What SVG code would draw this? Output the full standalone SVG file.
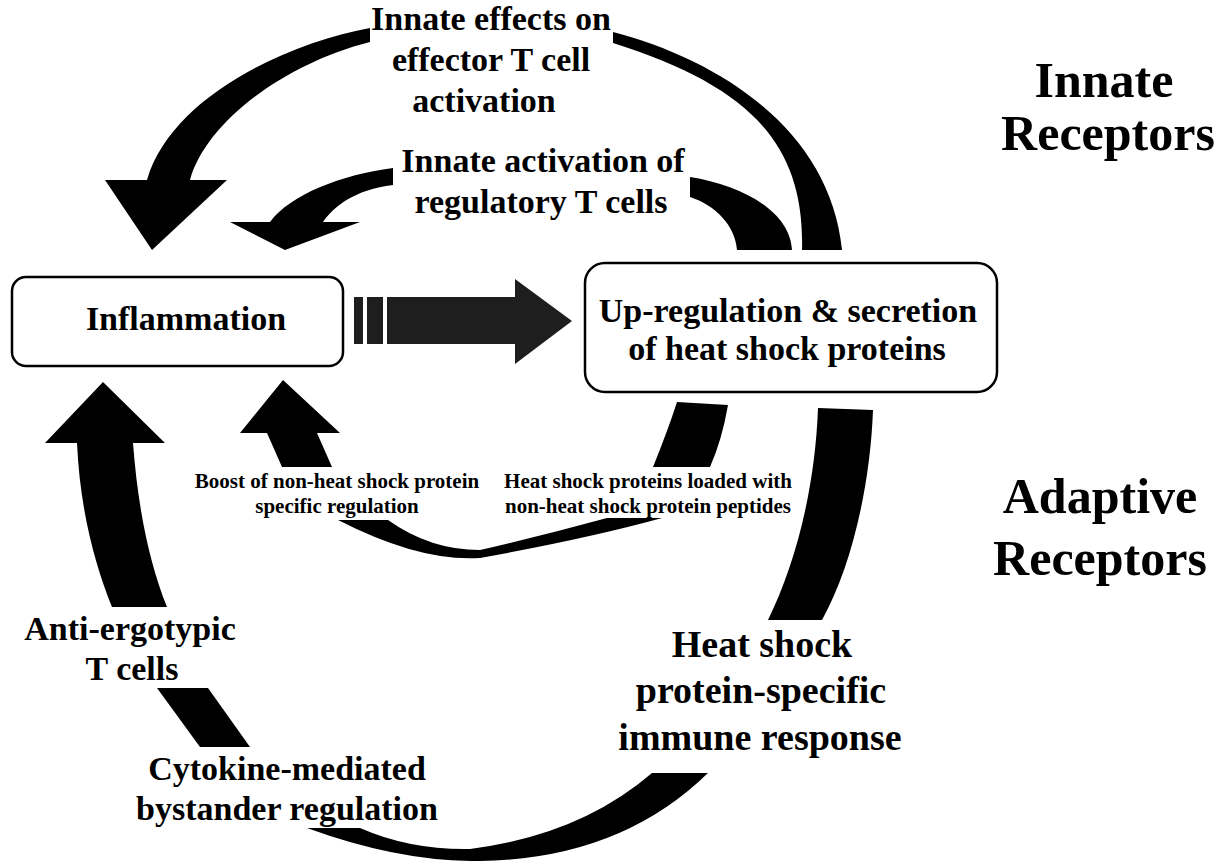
<svg xmlns="http://www.w3.org/2000/svg" width="1225" height="861" viewBox="0 0 1225 861">
  <style>
    .t { font-family: "Liberation Serif", "Times New Roman", serif; font-weight: bold; fill: #000; text-anchor: middle; }
    .big { font-size: 34px; }
    .sm { font-size: 21px; }
    .lg { font-size: 38px; }
    .xl { font-size: 50px; }
    .box { fill: #fff; stroke: #000; stroke-width: 2.5; }
    .arr { fill: #000; stroke: none; }
    .gray { fill: #1e1e1e; stroke: none; }
  </style>
  <rect width="1225" height="861" fill="#fff"/>

  <g id="connectors">
    <!-- Innate effects on effector T cell activation: big top arrow -->
    <path class="arr" d="M370,28 C280,45 170,100 147,180 L105,180 L152,250 L227,180 L190,180 C205,125 280,65 370,42 Z"/>
    <path class="arr" d="M613,32 C720,60 830,130 842,250 L802,250 C805,140 745,85 613,43 Z"/>
    <!-- Innate activation of regulatory T cells -->
    <path class="arr" d="M393,168 C340,175 290,195 270,222 L230,222 L285,250 L360,222 L323,222 C335,205 355,190 393,185 Z"/>
    <path class="arr" d="M690,177 C740,185 790,210 792,250 L737,250 C735,225 715,205 690,197 Z"/>
    <!-- Inflammation -> HSP dashed block arrow -->
    <rect class="gray" x="354" y="297" width="9" height="47"/>
    <rect class="gray" x="367" y="297" width="16" height="47"/>
    <path class="gray" d="M387,297 L515,297 L515,279 L572,321 L515,364 L515,344 L387,344 Z"/>
    <!-- Heat shock protein loaded / Boost small loop -->
    <path class="arr" d="M677,402 L728,405 Q722,440 710,467 L653,467 Q668,430 677,402 Z"/>
    <path class="arr" d="M338,520 Q420,562 480,558 Q590,538 662,518 L607,518 Q545,535 480,550 Q430,550 388,520 Z"/>
    <path class="arr" d="M283,380 L340,433 L317,433 L332,467 L282,467 L267,433 L240,433 Z"/>
    <!-- HSP-specific immune response big loop -->
    <path class="arr" d="M818,408 L873,410 C870,490 850,570 822,620 L768,620 C795,565 815,490 818,408 Z"/>
    <path class="arr" d="M307,828 Q400,862 480,861 Q620,859 708,773 L652,773 Q580,835 470,849 Q410,850 360,828 Z"/>
    <path class="arr" d="M157,688 L208,688 L250,747 L200,747 Z"/>
    <path class="arr" d="M103,382 L165,443 L133,443 C138,510 150,565 167,607 L112,607 C95,565 80,510 77,443 L45,443 Z"/>
  </g>

  <g id="node-inflammation">
    <rect class="box" x="12" y="277" width="331" height="89" rx="14"/>
    <text class="t big" x="186" y="330">Inflammation</text>
  </g>

  <g id="node-hsp">
    <rect class="box" x="585" y="263" width="412" height="129" rx="20"/>
    <text class="t big" x="788" y="322">Up-regulation &amp; secretion</text>
    <text class="t big" x="787" y="360">of heat shock proteins</text>
  </g>

  <g id="labels">
    <text class="t big" x="491" y="30">Innate effects on</text>
    <text class="t big" x="491" y="71">effector T cell</text>
    <text class="t big" x="484" y="112">activation</text>
    <text class="t big" x="543" y="172">Innate activation of</text>
    <text class="t big" x="541" y="213">regulatory T cells</text>

    <text class="t sm" x="337" y="488">Boost of non-heat shock protein</text>
    <text class="t sm" x="337" y="513">specific regulation</text>
    <text class="t sm" x="648" y="488">Heat shock proteins loaded with</text>
    <text class="t sm" x="648" y="513">non-heat shock protein peptides</text>

    <text class="t big" x="130" y="640">Anti-ergotypic</text>
    <text class="t big" x="132" y="680">T cells</text>
    <text class="t big" x="287" y="780">Cytokine-mediated</text>
    <text class="t big" x="287" y="820">bystander regulation</text>

    <text class="t lg" x="762" y="657">Heat shock</text>
    <text class="t lg" x="761" y="703">protein-specific</text>
    <text class="t lg" x="760" y="750">immune response</text>

    <text class="t xl" x="1104" y="97">Innate</text>
    <text class="t xl" x="1108" y="150">Receptors</text>
    <text class="t xl" x="1100" y="513">Adaptive</text>
    <text class="t xl" x="1100" y="575">Receptors</text>
  </g>
</svg>
